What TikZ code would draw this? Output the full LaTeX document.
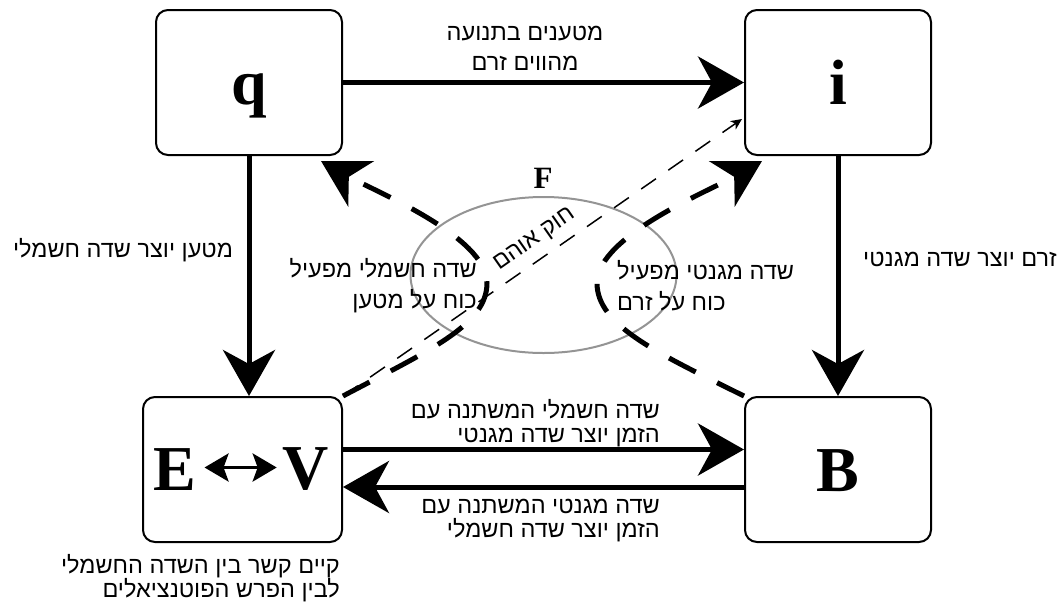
\documentclass[tikz,border=0pt]{standalone}
\usepackage{fontspec}
\setmainfont{Liberation Serif}
\newfontfamily\heb[Script=Hebrew]{Liberation Sans}
\TeXXeTstate=1
\usetikzlibrary{arrows.meta,shapes.geometric,calc}
\newcommand{\hb}[1]{\beginR #1\endR}
\begin{document}
\begin{tikzpicture}[x=1pt,y=-1pt,
  mainbox/.style={draw, line width=2pt, rounded corners=12pt, minimum width=186pt, minimum height=145pt, inner sep=0pt, text height=44pt, text depth=0pt, font=\fontsize{64}{64}\selectfont\bfseries},
  bigletter/.style={inner sep=0pt, font=\fontsize{64}{64}\selectfont\bfseries},
  bigarrow/.style={line width=5pt, -{Stealth[length=46pt,width=52pt,inset=14pt]}},
  dasharrow/.style={bigarrow, dash pattern=on 30pt off 24pt},
  thinarrow/.style={line width=1.5pt, dash pattern=on 18pt off 15pt, -{Stealth[length=11pt,width=10pt,inset=3pt]}},
  evarrow/.style={line width=3.5pt, {Stealth[length=24pt,width=28pt,inset=5pt]}-{Stealth[length=24pt,width=28pt,inset=5pt]}},
  lbl/.style={inner sep=0pt, font=\heb\fontsize{23.5}{30}\selectfont},
]
\useasboundingbox (0,0) rectangle (1061,606);

% force ellipse
\node[draw=black!42, line width=2pt, ellipse, minimum width=266pt, minimum height=156pt] (ell) at (543.5,275) {};
\node[inner sep=0pt, font=\fontsize{31}{31}\selectfont\bfseries] (F) at (543,178) {F};

% boxes
\node[mainbox] (q) at (249,82.5) {q};
\node[mainbox] (i) at (838,82.5) {i};
\node[mainbox, minimum width=199pt] (ev) at (242.5,469.5) {};
\node[mainbox] (b) at (838,469.5) {B};
\node[bigletter] (E) at (175,469.5) {E};
\node[bigletter] (V) at (306,469.5) {V};
\draw[evarrow] ($(E.east)+(8,-2)$) -- ($(V.west)+(-6,-2)$);

% solid arrows
\draw[bigarrow] (q) -- (i);
\draw[bigarrow] (q.south) -- (q.south |- ev.north);
\draw[bigarrow] (i.south) -- (i.south |- b.north);
\draw[bigarrow] ($(ev.east)+(0,-20)$) -- ($(b.west)+(0,-20)$);
\draw[bigarrow] ($(b.west)+(0,17.5)$) -- ($(ev.east)+(0,17.5)$);

% dashed curved arrows
\draw[dasharrow] (ev.north east) .. controls (430,350) and (487,325) .. (487,283)
  .. controls (487,236) and (372,190) .. ($(q.south east)+(-22,5)$);
\draw[dasharrow] (b.north west) .. controls (655,352) and (597,325) .. (597,283)
  .. controls (597,236) and (711,190) .. ($(i.south west)+(18,5)$);

% Ohm's law
\draw[thinarrow] (ev.north east) -- ($(i.south west)+(-2,-37)$);
\node[lbl, rotate=35] (ohm) at (535,240) {\hb{חוק אוהם}};

% labels
\node[lbl, align=center] (l1) at (525,48) {\hb{מטענים בתנועה}\\\hb{מהווים זרם}};
\node[lbl] (l2) at (123,250) {\hb{מטען יוצר שדה חשמלי}};
\node[lbl] (l3) at (960,259) {\hb{זרם יוצר שדה מגנטי}};
\node[lbl, align=right, anchor=east, font=\heb\fontsize{23.5}{31}\selectfont] (l4) at (477,286) {\hb{שדה חשמלי מפעיל}\\\hb{כוח על מטען}};
\node[lbl, align=left, anchor=west, font=\heb\fontsize{23.5}{31}\selectfont] (l5) at (617,286) {\hb{שדה מגנטי מפעיל}\\\hb{כוח על זרם}};
\node[lbl, align=right, anchor=east, font=\heb\fontsize{23.5}{24}\selectfont] (l6) at (660,423) {\hb{שדה חשמלי המשתנה עם}\\\hb{הזמן יוצר שדה מגנטי}};
\node[lbl, align=right, anchor=east, font=\heb\fontsize{23.5}{24}\selectfont] (l7) at (660,521) {\hb{שדה מגנטי המשתנה עם}\\\hb{הזמן יוצר שדה חשמלי}};
\node[lbl, align=right, anchor=east, font=\heb\fontsize{23.5}{21}\selectfont] (l8) at (340,578) {\hb{קיים קשר בין השדה החשמלי}\\\hb{לבין הפרש הפוטנציאלים}};
\end{tikzpicture}
\end{document}
